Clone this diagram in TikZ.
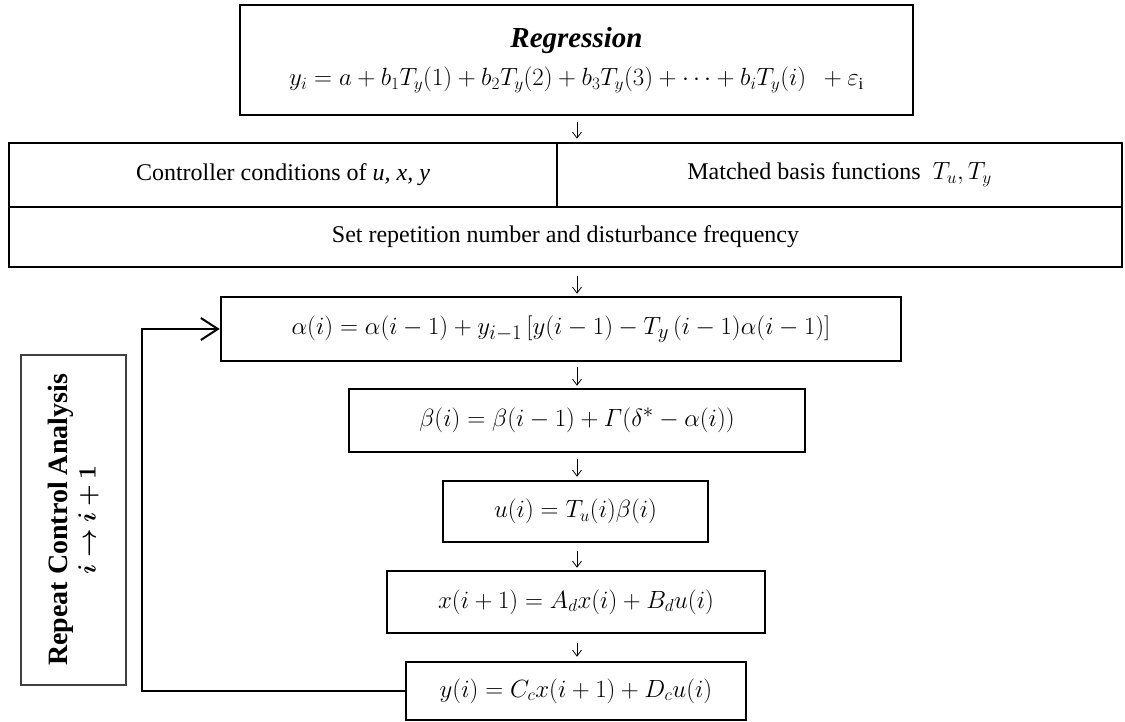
\documentclass[tikz,border=0pt]{standalone}
\usepackage{amsmath}
\usepackage{bm}
\usepackage{fontspec}
\setmainfont{Liberation Serif}
\usetikzlibrary{arrows.meta}
\tikzset{
  box/.style={draw, line width=2.6pt, inner sep=0pt, align=center},
  tabtext/.style={font=\fontsize{24}{28}\selectfont},
  eqtext/.style={font=\fontsize{26}{30}\selectfont},
  flowarrow/.style={line width=0.8pt, -{Straight Barb[length=6pt,width=9pt]}},
  feedback/.style={line width=2.4pt, -{Straight Barb[length=17pt,width=22pt,line width=2pt]}},
  sidebox/.style={draw=black!75, line width=1.3pt, inner sep=0pt, align=center, rotate=90,
    font=\fontsize{28}{30}\selectfont}
}
\begin{document}
\begin{tikzpicture}[x=1pt,y=-1pt]
\useasboundingbox (0,0) rectangle (1125,722);
\coordinate (ax) at (577,0);
\coordinate (fbx) at (142,0);

\node[box, minimum width=673pt, minimum height=110pt] (reg) at (576.5,60)
  {{\fontsize{29}{31}\selectfont\textbf{\textit{Regression}}}\\[12pt]
   {\fontsize{24}{28}\selectfont $y_i = a + b_1T_y(1) + b_2T_y(2) + b_3T_y(3) + \cdots + b_iT_y(i)\ \ + \varepsilon_{\mathrm{i}}$}};

\node[box, tabtext, minimum width=548pt, minimum height=64pt] (cond) at (283,175)
  {Controller conditions of \textit{u, x, y}};
\node[box, tabtext, minimum width=565pt, minimum height=64pt] (basis) at (839.5,175)
  {Matched basis functions \ $T_u, T_y$};
\node[box, tabtext, minimum width=1113pt, minimum height=60pt] (rep) at (565.5,237)
  {Set repetition number and disturbance frequency};

\node[box, eqtext, minimum width=680pt, minimum height=64pt] (alpha) at (561,329)
  {\fontsize{27.5}{30}\selectfont$\alpha(i) = \alpha(i-1) + y_{i-1}\,[y(i-1) - T_y\,(i-1)\alpha(i-1)]$};
\node[box, eqtext, minimum width=456pt, minimum height=63pt] (beta) at (577,420.5)
  {\fontsize{27.5}{30}\selectfont$\beta(i) = \beta(i-1) + \varGamma(\delta^{*} - \alpha(i))$};
\node[box, eqtext, minimum width=265pt, minimum height=61pt] (u) at (575.5,511.5)
  {$u(i) = T_u(i)\beta(i)$};
\node[box, eqtext, minimum width=378pt, minimum height=62pt] (x) at (576,602)
  {$x(i+1) = A_d x(i) + B_d u(i)$};
\node[box, eqtext, minimum width=340pt, minimum height=58pt] (y) at (576,691)
  {$y(i) = C_c x(i+1) + D_c u(i)$};

\node[sidebox, minimum width=330pt, minimum height=105pt] (repeat) at (73.5,520)
  {\textbf{Repeat Control Analysis}\\[-2pt] $\bm{i \rightarrow i+1}$};

\draw[flowarrow] ([yshift=-6pt]reg.south -| ax) -- ([yshift=3pt]basis.north -| ax);
\draw[flowarrow] ([yshift=-8pt]rep.south -| ax) -- ([yshift=2pt]alpha.north -| ax);
\draw[flowarrow] ([yshift=-5pt]alpha.south -| ax) -- ([yshift=2pt]beta.north -| ax);
\draw[flowarrow] ([yshift=-6pt]beta.south -| ax) -- ([yshift=3pt]u.north -| ax);
\draw[flowarrow] ([yshift=-8pt]u.south -| ax) -- ([yshift=2pt]x.north -| ax);
\draw[flowarrow] ([yshift=-9pt]x.south -| ax) -- ([yshift=4pt]y.north -| ax);

\draw[feedback] (y.west) -- (y.west -| fbx) |- (alpha.west);
\end{tikzpicture}
\end{document}
